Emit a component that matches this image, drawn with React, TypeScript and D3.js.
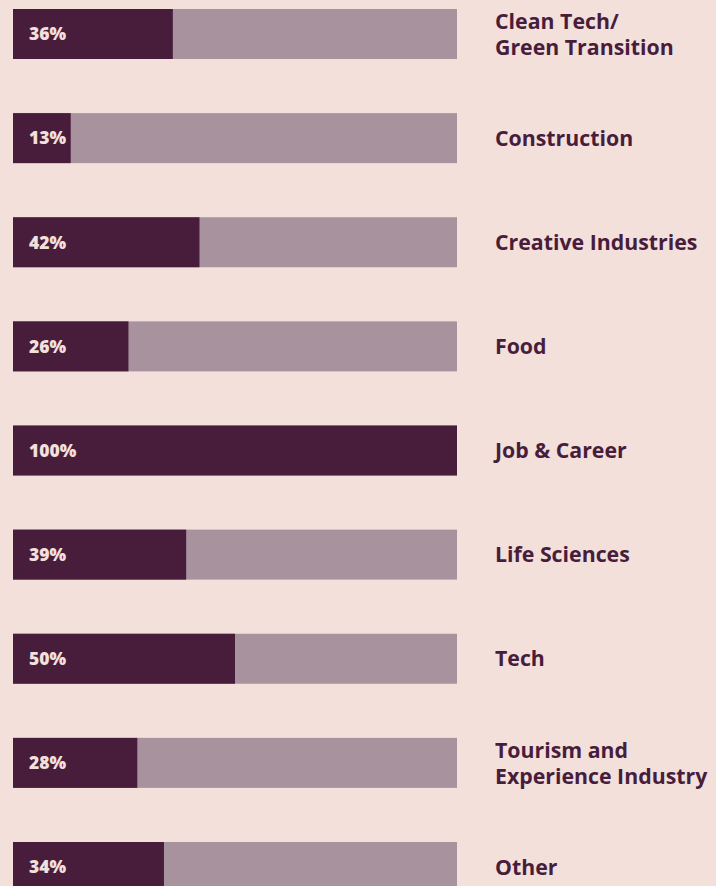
import React from "react";
import * as d3 from "d3";

const categories: string[][] = [
  ["Clean Tech/", "Green Transition"],
  ["Construction"],
  ["Creative Industries"],
  ["Food"],
  ["Job & Career"],
  ["Life Sciences"],
  ["Tech"],
  ["Tourism and", "Experience Industry"],
  ["Other"],
];
const values: number[] = [36, 13, 42, 26, 100, 39, 50, 28, 34];
const valueLabels: string[] = ["36%", "13%", "42%", "26%", "100%", "39%", "50%", "28%", "34%"];

const W = 716;
const H = 886;
const BG = "#f3e0db";
const DARK = "#481d3c";
const LIGHT = "#a8929d";
const FONT = "'Open Sans', sans-serif";

export default function App() {
  const keys = categories.map((c) => c.join(" "));
  const y = d3
    .scaleBand<string>()
    .domain(keys)
    .range([9, 892])
    .paddingInner(54.125 / 104.125)
    .paddingOuter(0)
    .align(0);
  const x = d3.scaleLinear().domain([0, 100]).range([13, 457]);
  const bh = y.bandwidth();

  return (
    <svg
      width={W}
      height={H}
      style={{ position: "absolute", left: 0, top: 0, background: BG, display: "block" }}
    >
      <rect x={0} y={0} width={W} height={H} fill={BG} />
      {categories.map((lines, i) => {
        const k = keys[i];
        const y0 = y(k)!;
        const cy = y0 + bh / 2;
        return (
          <g key={k}>
            <rect x={x(0)} y={y0} width={x(100) - x(0)} height={bh} fill={LIGHT} />
            <rect x={x(0)} y={y0} width={x(values[i]) - x(0)} height={bh} fill={DARK} />
            <text
              x={x(0) + 16}
              y={cy}
              dy="0.36em"
              fill="#f3e0dc"
              fontFamily={FONT}
              fontWeight={800}
              fontSize={17.5}
            >
              {valueLabels[i]}
            </text>
            <text fill={DARK} fontFamily={FONT} fontWeight={700} fontSize={21.3}>
              {lines.map((ln, j) => (
                <tspan
                  key={j}
                  x={495}
                  y={cy + (j - (lines.length - 1) / 2) * 26}
                  dy="0.36em"
                >
                  {ln}
                </tspan>
              ))}
            </text>
          </g>
        );
      })}
    </svg>
  );
}
